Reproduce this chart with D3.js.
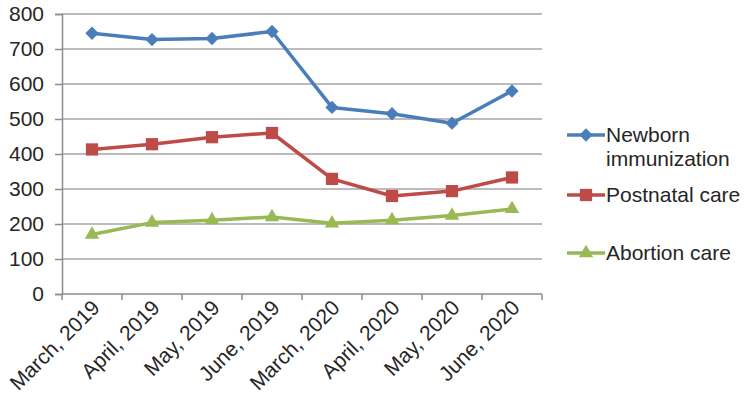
<!DOCTYPE html>
<html>
<head>
<meta charset="utf-8">
<script src="https://cdn.jsdelivr.net/npm/d3@7"></script>
<style>
  body { margin: 0; background: #fff; }
  svg text { font-family: "Liberation Sans", Arial, sans-serif; fill: #262626; }
</style>
</head>
<body>
<div id="chart"></div>
<script>
const categories = ["March, 2019", "April, 2019", "May, 2019", "June, 2019",
  "March, 2020", "April, 2020", "May, 2020", "June, 2020"];
const newborn = [745, 727, 730, 750, 533, 515, 488, 580];
const postnatal = [413, 428, 448, 460, 329, 280, 294, 333];
const abortion = [170, 204, 211, 220, 202, 211, 224, 243];
const yTicks = [0, 100, 200, 300, 400, 500, 600, 700, 800];

// square diamond like the spreadsheet marker
const squareDiamond = {
  draw(ctx, size) {
    const r = Math.sqrt(size / 2);
    ctx.moveTo(0, -r);
    ctx.lineTo(r, 0);
    ctx.lineTo(0, r);
    ctx.lineTo(-r, 0);
    ctx.closePath();
  }
};

const series = [
  { name: ["Newborn", "immunization"], values: newborn, color: "#4a7ebb", symbol: squareDiamond, size: 88, legendY: 135 },
  { name: ["Postnatal care"], values: postnatal, color: "#be4b48", symbol: d3.symbolSquare, size: 150, legendY: 195 },
  { name: ["Abortion care"], values: abortion, color: "#98b954", symbol: d3.symbolTriangle, size: 90, legendY: 253 }
];

const width = 749, height = 408;
const margin = { top: 14, right: 207, bottom: 114, left: 62 };

const svg = d3.select("#chart").append("svg")
  .attr("width", width)
  .attr("height", height);

const x = d3.scaleBand()
  .domain(categories)
  .range([margin.left, width - margin.right]);

const y = d3.scaleLinear()
  .domain([0, 800])
  .range([height - margin.bottom, margin.top]);

// grid lines
svg.append("g")
  .selectAll("line")
  .data(yTicks.filter(d => d > 0))
  .join("line")
  .attr("x1", margin.left)
  .attr("x2", width - margin.right)
  .attr("y1", d => y(d))
  .attr("y2", d => y(d))
  .attr("stroke", "#a6a6a6")
  .attr("stroke-width", 1.5);

// Y axis
const yAxis = svg.append("g")
  .attr("transform", `translate(${margin.left},0)`)
  .call(d3.axisLeft(y).tickValues(yTicks).tickSize(7).tickPadding(11));
yAxis.select(".domain").attr("stroke", "#8c8c8c").attr("stroke-width", 1.5);
yAxis.selectAll(".tick line").attr("stroke", "#8c8c8c").attr("stroke-width", 1.5);
yAxis.selectAll(".tick text").style("font-size", "21px").attr("fill", "#262626");

// X axis with ticks on band boundaries
const xAxisY = y(0);
svg.append("line")
  .attr("x1", margin.left).attr("x2", width - margin.right)
  .attr("y1", xAxisY).attr("y2", xAxisY)
  .attr("stroke", "#8c8c8c").attr("stroke-width", 1.5);

const bounds = categories.map(c => x(c)).concat([x(categories[categories.length - 1]) + x.bandwidth()]);
svg.append("g")
  .selectAll("line")
  .data(bounds)
  .join("line")
  .attr("x1", d => d).attr("x2", d => d)
  .attr("y1", xAxisY).attr("y2", xAxisY + 6)
  .attr("stroke", "#8c8c8c").attr("stroke-width", 1.5);

svg.append("g")
  .selectAll("text")
  .data(categories)
  .join("text")
  .attr("transform", d => `translate(${x(d) + x.bandwidth() / 2 + 9},${xAxisY + 15}) rotate(-45)`)
  .attr("text-anchor", "end")
  .style("font-size", "21px")
  .text(d => d);

// lines and markers
const line = d3.line()
  .x((d, i) => x(categories[i]) + x.bandwidth() / 2)
  .y(d => y(d));

series.forEach(s => {
  svg.append("path")
    .datum(s.values)
    .attr("fill", "none")
    .attr("stroke", s.color)
    .attr("stroke-width", 3.5)
    .attr("stroke-linejoin", "round")
    .attr("d", line);

  svg.append("g")
    .selectAll("path")
    .data(s.values)
    .join("path")
    .attr("transform", (d, i) => `translate(${x(categories[i]) + x.bandwidth() / 2},${y(d)})`)
    .attr("d", d3.symbol().type(s.symbol).size(s.size))
    .attr("fill", s.color);
});

// legend
const legend = svg.append("g");
series.forEach(s => {
  const g = legend.append("g").attr("transform", `translate(567,${s.legendY})`);
  g.append("line")
    .attr("x1", 0).attr("x2", 38)
    .attr("stroke", s.color).attr("stroke-width", 3.5);
  g.append("path")
    .attr("transform", "translate(19,0)")
    .attr("d", d3.symbol().type(s.symbol).size(s.size))
    .attr("fill", s.color);
  const t = g.append("text")
    .attr("x", 39)
    .attr("y", 7)
    .style("font-size", "21px");
  s.name.forEach((n, i) => {
    t.append("tspan").attr("x", 39).attr("dy", i === 0 ? 0 : 23.5).text(n);
  });
});
</script>
</body>
</html>
